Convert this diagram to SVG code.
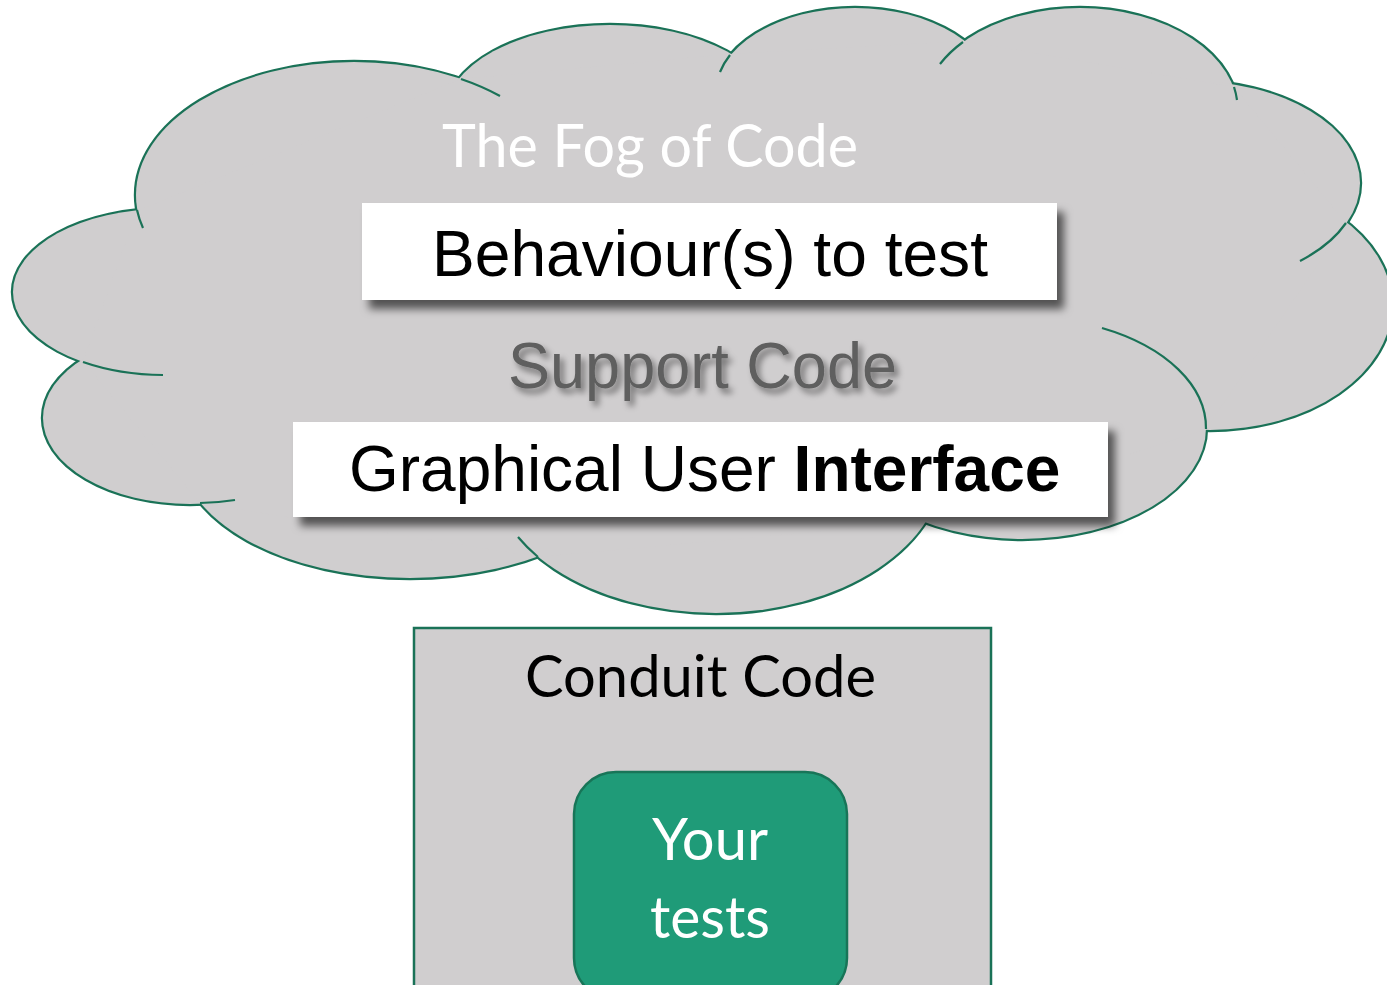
<svg xmlns="http://www.w3.org/2000/svg" width="1387" height="985" viewBox="0 0 1387 985">
<style>
.lobeS{fill:#D0CECF;stroke:#1A7257;stroke-width:4.4}
.lobeF{fill:#D0CECF;stroke:none}
.tail{fill:none;stroke:#1A7257;stroke-width:2.2}
.box{fill:#FFFFFF}
.arial{font-family:"Liberation Sans",Arial,sans-serif}
.cal{font-family:Lato,"Open Sans",sans-serif}
</style>
<defs>
<filter id="boxShadow" x="-10%" y="-30%" width="125%" height="170%">
<feDropShadow dx="7" dy="9" stdDeviation="4" flood-color="#000" flood-opacity="0.6"/>
</filter>
<filter id="textShadow" x="-10%" y="-30%" width="125%" height="170%">
<feDropShadow dx="4" dy="5" stdDeviation="3" flood-color="#000" flood-opacity="0.45"/>
</filter>
</defs>
<rect width="1387" height="985" fill="#FFFFFF"/>
<g id="cloud">
<g id="cloud-outline">
<ellipse class="lobeS" cx="165" cy="292" rx="152" ry="83"/>
<ellipse class="lobeS" cx="354" cy="195" rx="218" ry="133"/>
<ellipse class="lobeS" cx="610" cy="115" rx="165" ry="90"/>
<ellipse class="lobeS" cx="855" cy="95" rx="140" ry="87"/>
<ellipse class="lobeS" cx="1080" cy="112" rx="158" ry="104"/>
<ellipse class="lobeS" cx="1190" cy="183" rx="170" ry="102"/>
<ellipse class="lobeS" cx="1210" cy="305" rx="182" ry="125"/>
<ellipse class="lobeS" cx="1022" cy="428" rx="184" ry="111"/>
<ellipse class="lobeS" cx="716" cy="463" rx="228" ry="150"/>
<ellipse class="lobeS" cx="410" cy="450" rx="230" ry="128"/>
<ellipse class="lobeS" cx="190" cy="418" rx="147" ry="86"/>
</g>
<g id="cloud-fill">
<ellipse class="lobeF" cx="165" cy="292" rx="152" ry="83"/>
<ellipse class="lobeF" cx="354" cy="195" rx="218" ry="133"/>
<ellipse class="lobeF" cx="610" cy="115" rx="165" ry="90"/>
<ellipse class="lobeF" cx="855" cy="95" rx="140" ry="87"/>
<ellipse class="lobeF" cx="1080" cy="112" rx="158" ry="104"/>
<ellipse class="lobeF" cx="1190" cy="183" rx="170" ry="102"/>
<ellipse class="lobeF" cx="1210" cy="305" rx="182" ry="125"/>
<ellipse class="lobeF" cx="1022" cy="428" rx="184" ry="111"/>
<ellipse class="lobeF" cx="716" cy="463" rx="228" ry="150"/>
<ellipse class="lobeF" cx="410" cy="450" rx="230" ry="128"/>
<ellipse class="lobeF" cx="190" cy="418" rx="147" ry="86"/>
<polygon class="lobeF" points="137,211 461,79 730,54 963,41 1234,87 1346,223 1206,429 925,522 538,557 200,503 83,361"/>
</g>
<g id="cloud-tails">
<path class="tail" d="M137,210 A218,133 0 0 0 143,228"/>
<path class="tail" d="M461,79 A218,133 0 0 1 500,96"/>
<path class="tail" d="M83,362 A152,83 0 0 0 163,375"/>
<path class="tail" d="M200,503 A147,86 0 0 0 235,500"/>
<path class="tail" d="M538,557 A228,150 0 0 1 518,537"/>
<path class="tail" d="M1206,429 A184,111 0 0 0 1102,328"/>
<path class="tail" d="M1346,223 A170,102 0 0 1 1300,261"/>
<path class="tail" d="M1234,87 A158,104 0 0 1 1237,100"/>
<path class="tail" d="M963,42 A158,104 0 0 0 940,64"/>
<path class="tail" d="M730,55 A140,87 0 0 0 720,72"/>
</g>
</g>
<g id="fog-title">
<text class="cal" x="442" y="167" font-size="60" fill="#FFFFFF" textLength="416" lengthAdjust="spacingAndGlyphs">The Fog of Code</text>
</g>
<g id="behaviour">
<rect class="box" x="362" y="203" width="695" height="97" filter="url(#boxShadow)"/>
<text class="arial" x="432" y="276" font-size="64" fill="#000000" textLength="556" lengthAdjust="spacingAndGlyphs">Behaviour(s) to test</text>
</g>
<g id="support">
<text class="arial" x="508" y="388" font-size="64" fill="#5E5E5E" textLength="389" lengthAdjust="spacingAndGlyphs" filter="url(#textShadow)">Support Code</text>
</g>
<g id="gui">
<rect class="box" x="293" y="422" width="815" height="95" filter="url(#boxShadow)"/>
<text class="arial" x="349" y="491" font-size="64" fill="#000000">Graphical User <tspan font-weight="bold">Interface</tspan></text>
</g>
<g id="conduit">
<rect x="414" y="628" width="577" height="380" fill="#D0CECF" stroke="#1A7257" stroke-width="2.5"/>
<text class="cal" x="525" y="697" font-size="58" fill="#000000" textLength="351" lengthAdjust="spacingAndGlyphs">Conduit Code</text>
</g>
<g id="tests">
<rect x="574" y="772" width="273" height="228" rx="42" ry="42" fill="#1F9B78" stroke="#187558" stroke-width="2.5"/>
<text class="cal" x="710" y="860" font-size="58" fill="#FFFFFF" text-anchor="middle" textLength="116" lengthAdjust="spacingAndGlyphs">Your</text>
<text class="cal" x="710" y="938" font-size="58" fill="#FFFFFF" text-anchor="middle" textLength="120" lengthAdjust="spacingAndGlyphs">tests</text>
</g>
<g id="connectors"/>
</svg>
